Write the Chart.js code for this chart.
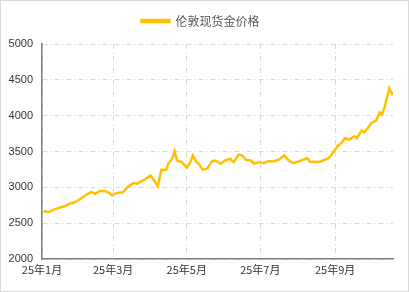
<!DOCTYPE html>
<html>
<head>
<meta charset="utf-8">
<script src="https://cdn.jsdelivr.net/npm/chart.js@4/dist/chart.umd.min.js"></script>
<style>
  html, body { margin: 0; padding: 0; background: #fff; }
  #wrap { width: 409px; height: 292px; }
</style>
</head>
<body>
<div id="wrap"><canvas id="goldChart" width="409" height="292"></canvas></div>
<script>
// London spot gold, 2025 (day of year -> USD/oz)
const seriesName = "伦敦现货金价格";
const days = [1, 6, 10, 15, 19, 23, 27, 30, 34, 38, 41, 44, 48, 52, 56, 58, 62, 67, 71, 73,
  76, 79, 85, 90, 92, 96, 99, 103, 105, 108, 110, 112, 116, 120, 123, 125, 128, 130, 133, 137,
  141, 144, 148, 152, 156, 159, 163, 166, 169, 173, 176, 180, 184, 188, 192, 196, 201, 204, 208, 211,
  215, 220, 222, 226, 230, 233, 237, 240, 242, 245, 249, 251, 255, 259, 261, 265, 267, 270, 273, 277,
  280, 282, 284, 286, 288, 289, 291];
const prices = [2667, 2657, 2690, 2718, 2736, 2773, 2792, 2819, 2865, 2910, 2935, 2910, 2949, 2949, 2921, 2889, 2921, 2930, 3004, 3028,
  3060, 3051, 3107, 3167, 3121, 3014, 3246, 3246, 3337, 3399, 3504, 3375, 3352, 3273, 3352, 3444, 3352, 3329, 3246, 3260,
  3365, 3375, 3329, 3375, 3399, 3352, 3458, 3444, 3385, 3375, 3329, 3352, 3337, 3365, 3365, 3385, 3444, 3385, 3337, 3352,
  3375, 3407, 3361, 3352, 3352, 3375, 3399, 3454, 3500, 3574, 3630, 3685, 3667, 3713, 3685, 3792, 3768, 3824, 3898, 3931,
  4046, 4023, 4115, 4254, 4379, 4347, 4287];

// x ticks: first day of every other month
const tickDays = [0, 59, 120, 181, 243];
const tickLabels = ["25年1月", "25年3月", "25年5月", "25年7月", "25年9月"];

const gridColor = "#d9d9d9";
const axisColor = "#7f7f7f";
const gold = "#FFC000";
const dashDot = [5, 3, 1, 3];

// border round the whole picture
const frame = {
  id: "frame",
  beforeDraw(chart) {
    const ctx = chart.ctx;
    ctx.save();
    ctx.fillStyle = "#fff";
    ctx.fillRect(0, 0, chart.width, chart.height);
    ctx.strokeStyle = "#d9d9d9";
    ctx.lineWidth = 1;
    ctx.strokeRect(0.5, 0.5, chart.width - 1, chart.height - 1);
    ctx.restore();
  }
};

new Chart(document.getElementById("goldChart"), {
  type: "line",
  data: {
    datasets: [{
      label: seriesName,
      data: days.map((d, i) => ({ x: d, y: prices[i] })),
      borderColor: gold,
      backgroundColor: gold,
      borderWidth: 2.5,
      pointRadius: 0,
      tension: 0
    }]
  },
  options: {
    responsive: false,
    animation: false,
    layout: { padding: { top: 5, right: 16, left: 8, bottom: 0 } },
    plugins: {
      legend: {
        labels: {
          boxWidth: 28,
          boxHeight: 2,
          color: "#595959",
          font: { family: "'Noto Sans CJK SC'", size: 12 }
        }
      },
      tooltip: { enabled: false }
    },
    scales: {
      x: {
        type: "linear",
        min: 0,
        max: 291,
        afterBuildTicks(axis) {
          axis.ticks = tickDays.map(v => ({ value: v }));
        },
        afterFit(axis) { axis.height = 33; },
        ticks: {
          autoSkip: false,
          maxRotation: 0,
          padding: 4,
          color: "#333",
          font: { family: "'Noto Sans CJK SC'", size: 11 },
          callback: (v) => tickLabels[tickDays.indexOf(v)]
        },
        grid: { color: gridColor, drawTicks: false },
        border: { color: axisColor, width: 1.5, dash: dashDot }
      },
      // empty spacer between legend and plot
      gap: {
        type: "linear",
        position: "top",
        min: 0,
        max: 1,
        afterFit(axis) { axis.height = 7; },
        ticks: { display: false },
        grid: { display: false },
        border: { display: false }
      },
      y: {
        min: 2000,
        max: 5000,
        afterFit(axis) { axis.width = 34; },
        ticks: {
          stepSize: 500,
          padding: 9,
          color: "#333",
          font: { family: "'Liberation Sans', Arial", size: 11 },
          callback: (v) => String(v)
        },
        grid: { color: gridColor, drawTicks: false },
        border: { color: axisColor, width: 1.5, dash: dashDot }
      }
    }
  },
  plugins: [frame]
});
</script>
</body>
</html>
